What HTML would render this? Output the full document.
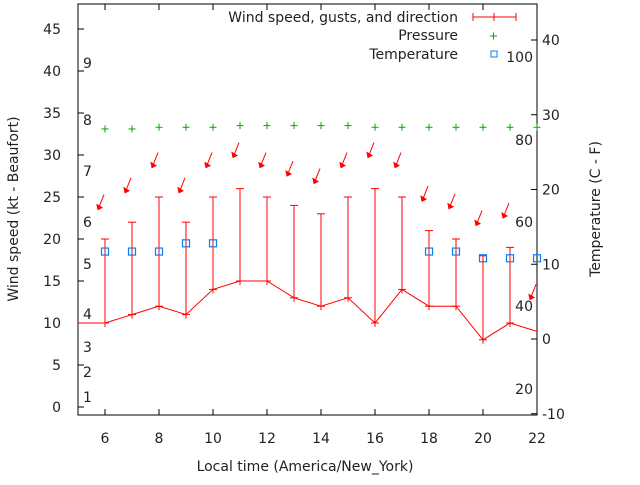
<!DOCTYPE html>
<html><head><meta charset="utf-8"><style>
body{margin:0;background:#fff;}
svg text{font-family:"DejaVu Sans","Liberation Sans",sans-serif;font-size:14px;fill:#222;}
</style></head><body>
<svg id="chart" width="640" height="480" viewBox="0 0 640 480" xmlns="http://www.w3.org/2000/svg">
</svg>
<script>
const hours=[5,6,7,8,9,10,11,12,13,14,15,16,17,18,19,20,21,22];
const windSpeed=[10,10,11,12,11,14,15,15,13,12,13,10,14,12,12,8,10,9];
const gustHours=[6,7,8,9,10,11,12,13,14,15,16,17,18,19,20,21];
const gusts=[20,22,25,22,25,26,25,24,23,25,26,25,21,20,18,19];
const arrowHours=[6,7,8,9,10,11,12,13,14,15,16,17,18,19,20,21,22];
const arrowLevels=[23.5,25.5,28.5,25.5,28.5,29.7,28.5,27.5,26.6,28.5,29.7,28.5,24.5,23.6,21.6,22.5,12.8];
const pressHours=[6,7,8,9,10,11,12,13,14,15,16,17,18,19,20,21,22];
const pressure=[33.1,33.1,33.3,33.3,33.3,33.5,33.5,33.5,33.5,33.5,33.3,33.3,33.3,33.3,33.3,33.3,33.3];
const tempHours=[6,7,8,9,10,18,19,20,21,22];
const temps=[11.7,11.7,11.7,12.8,12.8,11.7,11.7,10.8,10.8,10.8];
const xTicks=[6,8,10,12,14,16,18,20,22];
const yTicks=[0,5,10,15,20,25,30,35,40,45];
const y2Ticks=[-10,0,10,20,30,40];
const beaufort=[[1,397],[2,372],[3,347],[4,314],[5,264],[6,222],[7,171],[8,120],[9,63]];
const fahr=[[20,389],[40,306],[60,222],[80,140],[100,57]];

const L=78,R=537,T=4,B=415;
const X=h=>L+(h-5)*(R-L)/17;
const Y=v=>407-v*8.4;
const Y2=v=>339-v*7.475;
const svg=document.getElementById('chart');
const NS='http://www.w3.org/2000/svg';
function el(tag,attrs,parent){const e=document.createElementNS(NS,tag);for(const k in attrs)e.setAttribute(k,attrs[k]);(parent||svg).appendChild(e);return e;}
function txt(x,y,s,anchor,parent){const t=el('text',{x:x,y:y,'text-anchor':anchor||'start'},parent);t.textContent=s;return t;}

const frame=el('rect',{x:L,y:T,width:R-L,height:B-T,fill:'none',stroke:'#000','stroke-width':1});



xTicks.forEach(h=>{
  const g=el('g',{});
  
  
  el('line',{x1:X(h),x2:X(h),y1:B,y2:B-6,stroke:'#000'},g);
  el('line',{x1:X(h),x2:X(h),y1:T,y2:T+6,stroke:'#000'},g);
  txt(X(h),443,String(h),'middle',g);
});
yTicks.forEach(v=>{
  const g=el('g',{});
  
  
  el('line',{x1:L,x2:L+6,y1:Y(v),y2:Y(v),stroke:'#000'},g);
  txt(61,Y(v)+5,String(v),'end',g);
});
y2Ticks.forEach(v=>{
  const g=el('g',{});
  
  
  el('line',{x1:R,x2:R-6,y1:Y2(v),y2:Y2(v),stroke:'#000'},g);
  txt(542,Y2(v)+5,String(v),'start',g);
});
beaufort.forEach(b=>{
  const t=txt(83,b[1]+5,String(b[0]),'start');
  
  
});
fahr.forEach(f=>{
  const t=txt(533,f[1]+5,String(f[0]),'end');
  
  
});

let t=txt(305,471,'Local time (America/New_York)','middle');


t=txt(0,0,'Wind speed (kt - Beaufort)','middle');
t.setAttribute('transform','translate(18,209) rotate(-90)');


t=txt(0,0,'Temperature (C - F)','middle');
t.setAttribute('transform','translate(600,209) rotate(-90)');



const red='#f00';
let pts=hours.map((h,i)=>X(h)+','+Y(windSpeed[i])).join(' ');
const wl=el('polyline',{points:pts,fill:'none',stroke:red,'stroke-width':1});


gustHours.forEach((h,i)=>{
  const wi=hours.indexOf(h);
  const g=el('g',{stroke:red,'stroke-width':1});
  
  
  el('line',{x1:X(h),x2:X(h),y1:Y(windSpeed[wi])+4,y2:Y(gusts[i])},g);
  el('line',{x1:X(h)-4,x2:X(h)+4,y1:Y(gusts[i]),y2:Y(gusts[i])},g);
  el('line',{x1:X(h)-4,x2:X(h)+4,y1:Y(windSpeed[wi]),y2:Y(windSpeed[wi])},g);
});
arrowHours.forEach((h,i)=>{
  const x=X(h)-7,y=Y(arrowLevels[i]);
  const g=el('g',{stroke:red,'stroke-width':1,fill:red});
  
  
  el('line',{x1:x,x2:x+6,y1:y,y2:y-15},g);
  el('polygon',{points:(x)+','+(y)+' '+(x-1)+','+(y-5)+' '+(x+4)+','+(y-2)},g);
});
pressHours.forEach((h,i)=>{
  const g=el('g',{stroke:'#0a0','stroke-width':1});
  
  
  el('line',{x1:X(h)-3.5,x2:X(h)+3.5,y1:Y(pressure[i]),y2:Y(pressure[i])},g);
  el('line',{x1:X(h),x2:X(h),y1:Y(pressure[i])-3.5,y2:Y(pressure[i])+3.5},g);
});
tempHours.forEach((h,i)=>{
  const r=el('rect',{x:X(h)-3.5,y:Y2(temps[i])-3.5,width:7,height:7,fill:'none',stroke:'#0a7ef0','stroke-width':1.2});
  
  
});
const lg=el('g',{});


txt(458,22,'Wind speed, gusts, and direction','end',lg);
el('line',{x1:473,x2:516,y1:17,y2:17,stroke:red},lg);
el('line',{x1:473,x2:473,y1:13,y2:21,stroke:red},lg);
el('line',{x1:516,x2:516,y1:13,y2:21,stroke:red},lg);
el('line',{x1:494,x2:494,y1:13,y2:21,stroke:red},lg);
txt(458,40,'Pressure','end',lg);
el('line',{x1:490,x2:497,y1:36,y2:36,stroke:'#0a0'},lg);
el('line',{x1:493.5,x2:493.5,y1:32.5,y2:39.5,stroke:'#0a0'},lg);
txt(458,59,'Temperature','end',lg);
el('rect',{x:491,y:51,width:6,height:6,fill:'none',stroke:'#0a7ef0'},lg);
</script>
</body></html>
